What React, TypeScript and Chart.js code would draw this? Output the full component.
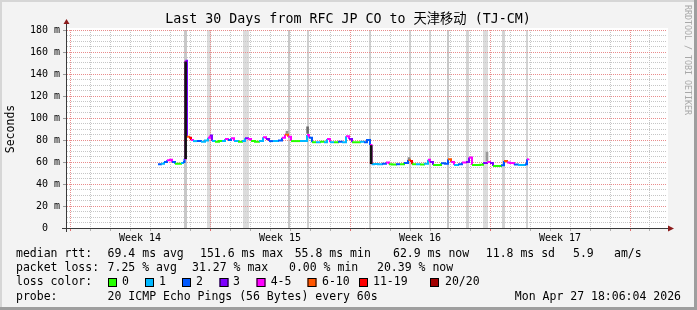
import React, { useEffect, useRef } from 'react';
import { Chart, registerables } from 'chart.js';

Chart.register(...registerables);

const W = 697;
const H = 310;
const MONO = '"DejaVu Sans Mono", "Noto Sans CJK SC", monospace';

// ---- data (time in days counted from the Week 14 boundary) ----
const sampleDays = [
  4.40, 4.55, 4.70, 4.85, 5.00, 5.10, 5.25, 5.40, 5.55, 5.65, 5.725, 5.775,
  5.85, 5.95, 6.05, 6.15, 6.35, 6.55, 6.75, 6.90, 7.00, 7.10, 7.25, 7.45,
  7.60, 7.75, 7.90, 8.05, 8.20, 8.40, 8.60, 8.75, 8.90, 9.05, 9.25, 9.45,
  9.65, 9.80, 9.95, 10.15, 10.40, 10.60, 10.75, 10.90, 11.05, 11.25, 11.50, 11.70,
  11.85, 11.95, 12.10, 12.30, 12.50, 12.70, 12.85, 13.00, 13.20, 13.40, 13.60, 13.80,
  13.95, 14.10, 14.30, 14.50, 14.70, 14.85, 15.00, 15.075, 15.20, 15.40, 15.60, 15.80,
  15.95, 16.10, 16.30, 16.50, 16.70, 16.90, 17.00, 17.10, 17.30, 17.50, 17.70, 17.90,
  18.00, 18.15, 18.35, 18.55, 18.75, 18.90, 19.05, 19.20, 19.40, 19.60, 19.80, 19.95,
  20.10, 20.30, 20.50, 20.65, 20.85, 21.00, 21.15, 21.35, 21.55, 21.70, 21.85, 22.00,
  22.20, 22.40, 22.60, 22.75, 22.85, 22.925,
];
const medianMs = [
  58, 58.5, 60, 61.5, 62, 60, 58.5, 58.5, 59, 60, 63, 152,
  83, 82, 80, 79, 79, 78.5, 79.5, 82, 84, 79, 78.5, 79,
  79, 81, 80, 81.5, 79, 78.5, 79, 81.5, 81, 79, 78.5, 79,
  82.5, 81, 79, 79, 79.5, 82, 85, 83, 79, 79, 79, 79,
  84.5, 82, 78, 78, 78.5, 78, 81, 78, 78, 78.5, 78, 83.5,
  81, 78, 78, 78.5, 78, 80, 75.5, 58, 58.2, 58, 58.5, 59.5,
  58, 57.8, 58, 58, 59, 62, 61, 58, 58, 57.8, 58.5, 62,
  60, 57.3, 57.3, 58.8, 58.5, 62.4, 60, 57.3, 58, 59.5, 60, 64,
  57.3, 57.3, 57.5, 59, 60, 59, 56.4, 56.4, 57, 61, 59.5, 59,
  57.8, 57.3, 57.3, 58, 62.5, 63,
];
const lossBucket = [
  2, 1, 2, 4, 4, 2, 0, 0, 1, 2, 4, 3,
  5, 6, 4, 1, 2, 1, 1, 4, 3, 1, 0, 0,
  1, 4, 2, 4, 1, 0, 1, 3, 4, 0, 0, 1,
  4, 3, 2, 1, 2, 4, 5, 4, 0, 0, 1, 1,
  4, 2, 0, 1, 0, 1, 4, 1, 0, 2, 1, 4,
  3, 0, 0, 1, 2, 2, 4, 1, 1, 1, 2, 4,
  0, 0, 2, 0, 2, 5, 6, 0, 1, 0, 1, 4,
  3, 0, 0, 2, 2, 5, 4, 1, 2, 4, 3, 4,
  0, 0, 0, 3, 4, 3, 0, 0, 2, 5, 4, 4,
  2, 1, 1, 2, 4, 4,
];

const lossColors = ['#26ff00', '#00b8ff', '#0059ff', '#7e00ff', '#ff00ff', '#ff5500', '#ff0000', '#a10000'];
const lossLabels = ['0', '1', '2', '3', '4-5', '6-10', '11-19', '20/20'];

// smoke (spread of the 20 pings)
const smokeDays = [5.78, 15.06, 11.88, 10.85, 20.85, 16.95];
const smokeLow = [63, 58.5, 86, 86, 61, 62.5];
const smokeHigh = [151, 75, 92, 88, 69, 64];
const smokeShades = ['#111111', '#111111', '#6a6a6a', '#8a8a8a', '#9a9a9a', '#8a8a8a'];

// full-height grey bands
const bandStartDays = [5.70, 6.85, 8.65, 10.88, 11.85, 14.95, 16.95, 17.95, 18.85, 19.80, 20.65, 21.60, 22.78];
const bandEndDays = [5.85, 7.03, 8.93, 11.00, 11.95, 15.05, 17.05, 18.05, 18.95, 19.93, 20.90, 21.73, 22.90];
const bandShades = ['#c8c8c8', '#dcdcdc', '#dcdcdc', '#c8c8c8', '#cfcfcf', '#d4d4d4', '#d4d4d4', '#d8d8d8', '#c8c8c8', '#d4d4d4', '#dcdcdc', '#d4d4d4', '#d4d4d4'];

const xMin = -0.15;
const xMax = 29.85;
const weekCenters = [3.5, 10.5, 17.5, 24.5];
const weekLabels = ['Week 14', 'Week 15', 'Week 16', 'Week 17'];
const yMajorValues = [0, 20, 40, 60, 80, 100, 120, 140, 160, 180];
const yTickLabels = ['0  ', '20 m', '40 m', '60 m', '80 m', '100 m', '120 m', '140 m', '160 m', '180 m'];

const titleText = 'Last 30 Days from RFC JP CO to 天津移动 (TJ-CM)';
const yTitle = 'Seconds';
const watermark = 'RRDTOOL / TOBI OETIKER';
const rttTexts = ['median rtt:', '69.4 ms avg', '151.6 ms max', '55.8 ms min', '62.9 ms now', '11.8 ms sd', '5.9', 'am/s'];
const lossTexts = ['packet loss:', '7.25 % avg', '31.27 % max', '0.00 % min', '20.39 % now'];
const probeTexts = ['probe:', '20 ICMP Echo Pings (56 Bytes) every 60s'];
const dateText = 'Mon Apr 27 18:06:04 2026';

// layout (pixels)
const rttX = [16, 107.6, 200, 294.7, 393, 485.8, 573, 614];
const lossX = [16, 107.6, 192, 289, 377];
const boxX = [108, 145, 182, 219.5, 256.5, 307.5, 359, 430];
const boxLabelX = [122, 159, 196, 233, 270.7, 322, 373, 445];
const rowY = [254, 268, 282.5, 297];

const MAJOR = '#e98c8c';
const MINOR = '#c6c6c6';

const decor = {
  id: 'decor',
  beforeDraw(chart: any) {
    const { ctx, chartArea: a, scales } = chart;
    ctx.save();
    ctx.fillStyle = '#f3f3f3';
    ctx.fillRect(0, 0, W, H);
    ctx.fillStyle = '#d6d6d6';
    ctx.fillRect(0, 0, W, 2);
    ctx.fillRect(0, 0, 2, H);
    ctx.fillStyle = '#9e9e9e';
    ctx.fillRect(W - 3, 0, 3, H);
    ctx.fillRect(0, H - 3, W, 3);
    ctx.fillStyle = '#ffffff';
    ctx.fillRect(a.left, a.top - 2, a.right - a.left + 1, a.bottom - a.top + 2);
    // grey bands (under the grid)
    const xs = scales.x;
    for (let i = 0; i < bandStartDays.length; i++) {
      const x0 = xs.getPixelForValue(bandStartDays[i]);
      const x1 = xs.getPixelForValue(bandEndDays[i]);
      ctx.fillStyle = bandShades[i];
      ctx.fillRect(Math.round(x0), a.top, Math.max(1, Math.round(x1 - x0)), a.bottom - a.top);
    }
    ctx.restore();
  },
  afterDraw(chart: any) {
    const { ctx, chartArea: a } = chart;
    ctx.save();
    // axes
    ctx.strokeStyle = '#3a3a3a';
    ctx.lineWidth = 1;
    ctx.beginPath();
    ctx.moveTo(a.left - 0.5, a.bottom + 4);
    ctx.lineTo(a.left - 0.5, a.top - 6);
    ctx.moveTo(a.left - 5, a.bottom + 0.5);
    ctx.lineTo(a.right + 2, a.bottom + 0.5);
    ctx.stroke();
    ctx.fillStyle = '#8b1c1c';
    ctx.beginPath();
    ctx.moveTo(a.left - 3.5, a.top - 6);
    ctx.lineTo(a.left + 2.5, a.top - 6);
    ctx.lineTo(a.left - 0.5, a.top - 11);
    ctx.closePath();
    ctx.fill();
    ctx.beginPath();
    ctx.moveTo(a.right + 1, a.bottom - 2.5);
    ctx.lineTo(a.right + 1, a.bottom + 3.5);
    ctx.lineTo(a.right + 7, a.bottom + 0.5);
    ctx.closePath();
    ctx.fill();

    // title
    ctx.fillStyle = '#000';
    ctx.textBaseline = 'middle';
    ctx.textAlign = 'center';
    ctx.font = `13.3px ${MONO}`;
    ctx.fillText(titleText, 348, 20);

    // y title
    ctx.save();
    ctx.font = `11.5px ${MONO}`;
    ctx.translate(11, (a.top + a.bottom) / 2);
    ctx.rotate(-Math.PI / 2);
    ctx.fillText(yTitle, 0, 0);
    ctx.restore();

    // watermark
    ctx.save();
    ctx.fillStyle = '#a8a8a8';
    ctx.font = `8.3px ${MONO}`;
    ctx.translate(687.5, 60);
    ctx.rotate(Math.PI / 2);
    ctx.fillText(watermark, 0, 0);
    ctx.restore();

    // legend
    ctx.textAlign = 'left';
    ctx.font = `11.5px ${MONO}`;
    ctx.fillStyle = '#000';
    rttTexts.forEach((t, i) => ctx.fillText(t, rttX[i], rowY[0]));
    lossTexts.forEach((t, i) => ctx.fillText(t, lossX[i], rowY[1]));
    ctx.fillText('loss color:', 16, rowY[2]);
    lossLabels.forEach((t, i) => {
      ctx.fillStyle = lossColors[i];
      ctx.fillRect(boxX[i], rowY[2] - 4.5, 9, 9);
      ctx.strokeStyle = '#000';
      ctx.strokeRect(boxX[i] + 0.5, rowY[2] - 4, 8, 8);
      ctx.fillStyle = '#000';
      ctx.fillText(t, boxLabelX[i], rowY[2]);
    });
    ctx.fillText(probeTexts[0], 16, rowY[3]);
    ctx.fillText(probeTexts[1], 107.6, rowY[3]);
    ctx.textAlign = 'right';
    ctx.fillText(dateText, 681, rowY[3]);
    ctx.restore();
  },
};

export default function App() {
  const ref = useRef<HTMLCanvasElement>(null);
  useEffect(() => {
    const canvas = ref.current!;
    const dayGrid: number[] = [];
    for (let d = 0; d <= 29; d++) dayGrid.push(d);
    const yGrid: number[] = [];
    for (let v = 0; v <= 180; v += 5) yGrid.push(v);

    const chart = new Chart(canvas, {
      type: 'line',
      data: {
        datasets: [
          {
            type: 'bar',
            label: 'smoke',
            data: smokeDays.map((d, i) => ({ x: d, y: [smokeLow[i], smokeHigh[i]] })) as any,
            backgroundColor: smokeShades,
            barThickness: 2,
            grouped: false,
            borderWidth: 0,
            order: 0,
          } as any,
          {
            type: 'line',
            label: 'median rtt',
            data: sampleDays.map((d, i) => ({ x: d, y: medianMs[i] })),
            borderWidth: 2,
            pointRadius: 0,
            stepped: true,
            fill: false,
            borderColor: lossColors[0],
            segment: {
              borderColor: (c: any) => lossColors[lossBucket[c.p0DataIndex]],
            },
            order: 1,
          } as any,
        ],
      },
      plugins: [decor],
      options: {
        animation: false,
        responsive: false,
        devicePixelRatio: 1,
        events: [],
        layout: { padding: { left: 0, right: 30, top: 30, bottom: 0 } },
        plugins: { legend: { display: false }, tooltip: { enabled: false } },
        scales: {
          x: {
            type: 'linear',
            position: 'bottom',
            min: xMin,
            max: xMax,
            offset: false,
            afterBuildTicks: (s: any) => {
              s.ticks = dayGrid.map((v) => ({ value: v }));
            },
            afterFit: (s: any) => {
              s.height = 0;
            },
            ticks: { display: false, autoSkip: false },
            grid: {
              offset: false,
              color: (c: any) => (c.tick && c.tick.value % 7 === 0 ? MAJOR : MINOR),
              tickColor: (c: any) => (c.tick && c.tick.value % 7 === 0 ? '#e07070' : '#b0b0b0'),
              tickLength: 3,
              lineWidth: 1,
            },
            border: { display: false, dash: [1, 1] },
          },
          x2: {
            type: 'linear',
            position: 'bottom',
            min: xMin,
            max: xMax,
            offset: false,
            afterBuildTicks: (s: any) => {
              s.ticks = weekCenters.map((v) => ({ value: v }));
            },
            afterFit: (s: any) => {
              s.height = 82;
            },
            grid: { display: false, drawTicks: false, offset: false },
            border: { display: false },
            ticks: {
              autoSkip: false,
              maxRotation: 0,
              minRotation: 0,
              padding: 4,
              color: '#000',
              font: { family: MONO, size: 10 },
              callback: (_v: any, i: number) => weekLabels[i],
            },
          },
          y: {
            type: 'linear',
            position: 'left',
            min: 0,
            max: 180,
            afterBuildTicks: (s: any) => {
              s.ticks = yGrid.map((v) => ({ value: v }));
            },
            afterFit: (s: any) => {
              s.width = 67;
            },
            ticks: {
              autoSkip: false,
              padding: 3,
              color: '#000',
              font: { family: MONO, size: 10 },
              callback: (v: any) => {
                const idx = yMajorValues.indexOf(Number(v));
                return idx >= 0 ? yTickLabels[idx] : '';
              },
            },
            grid: {
              offset: false,
              color: (c: any) => (c.tick && c.tick.value % 20 === 0 ? MAJOR : MINOR),
              tickColor: (c: any) => (c.tick && c.tick.value % 20 === 0 ? '#999999' : 'rgba(0,0,0,0)'),
              tickLength: 4,
              lineWidth: 1,
            },
            border: { display: false, dash: [1, 1] },
          },
        },
      } as any,
    });
    return () => chart.destroy();
  }, []);

  return (
    <div style={{ position: 'absolute', left: 0, top: 0, width: W, height: H }}>
      <canvas ref={ref} width={W} height={H} style={{ width: W, height: H, display: 'block' }} />
    </div>
  );
}
